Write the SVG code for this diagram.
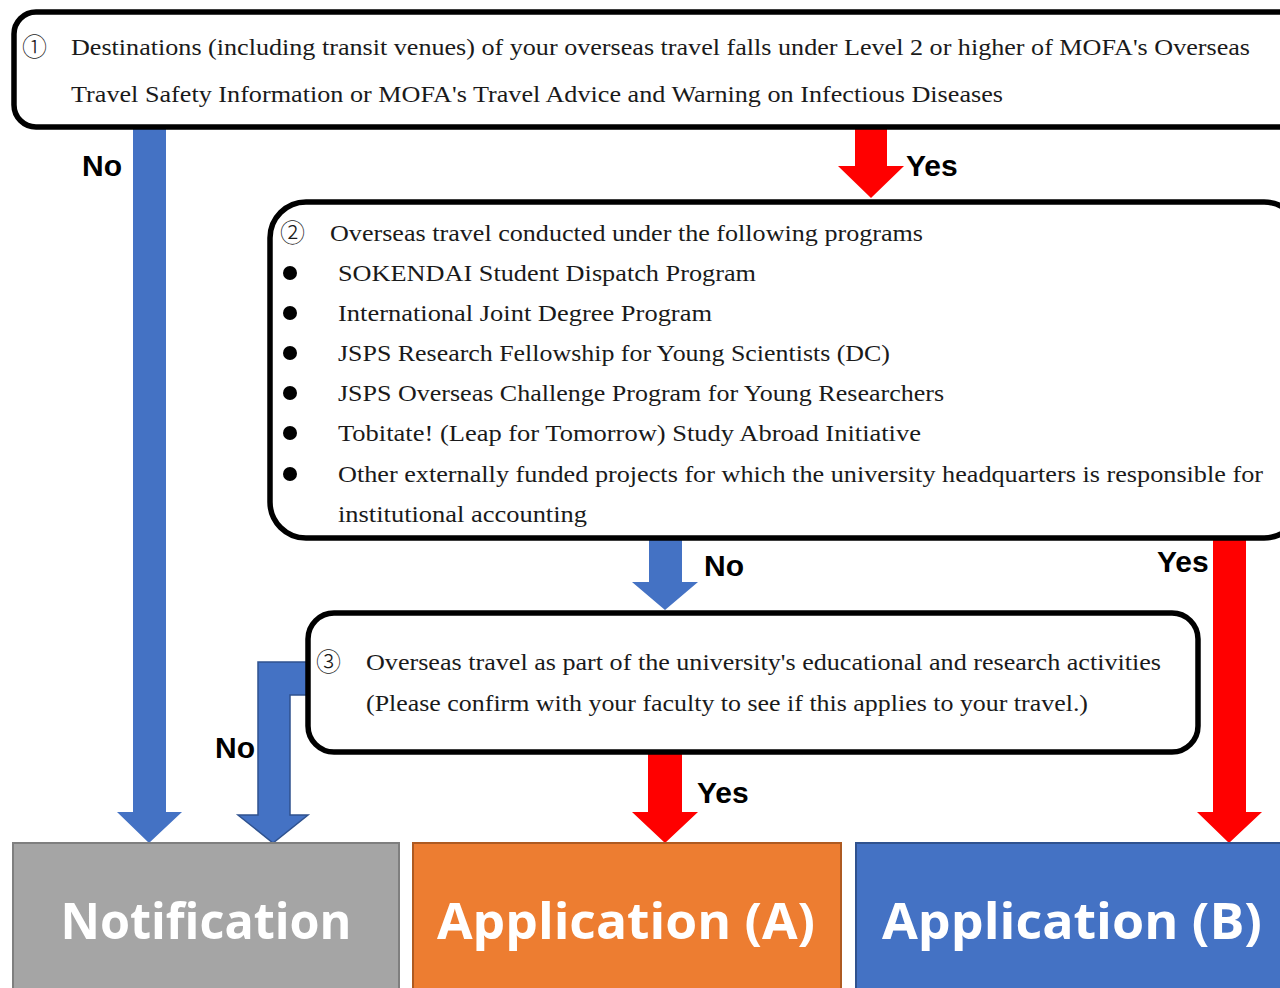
<svg xmlns="http://www.w3.org/2000/svg" width="1280" height="988" viewBox="0 0 1280 988">
<style>
.box{fill:#fff;stroke:#000;stroke-width:5.5}
.t{font-family:"Liberation Serif","Noto Serif CJK JP","Noto Sans CJK JP",serif;font-size:23px;fill:#1a1a1a}
.num{font-family:"Noto Sans CJK JP","DejaVu Sans",sans-serif;font-size:25px;fill:#1a1a1a;font-weight:300}
.lab{font-family:"Liberation Sans",Arial,sans-serif;font-weight:bold;font-size:30px;fill:#000}
.big{font-family:"Open Sans","Liberation Sans",sans-serif;font-weight:bold;font-size:50px;fill:#fff;text-anchor:middle}
.blue{fill:#4472C4}
.red{fill:#FF0000}
</style>
<rect width="1280" height="988" fill="#fff"/>
<g id="connectors">
  <polygon class="blue" points="133,128 166,128 166,812 182,812 149,843 117,812 133,812"/>
  <polygon class="red" points="855,128 887,128 887,166 904,166 871,198 838,166 855,166"/>
  <polygon class="blue" points="649,538 682,538 682,582 698,582 665,610 632,582 649,582"/>
  <polygon class="red" points="1213,538 1246,538 1246,812 1262,812 1229,843 1197,812 1213,812"/>
  <polygon class="blue" stroke="#2F528F" stroke-width="1.5" points="310,662 258,662 258,815 238,815 273,843 308,815 290,815 290,695 310,695"/>
  <polygon class="red" points="648,752 682,752 682,812 698,812 665,843 632,812 648,812"/>
  <text class="lab" x="82" y="176">No</text>
  <text class="lab" x="906" y="176">Yes</text>
  <text class="lab" x="704" y="576">No</text>
  <text class="lab" x="1157" y="572">Yes</text>
  <text class="lab" x="215" y="758">No</text>
  <text class="lab" x="697" y="803">Yes</text>
</g>
<g id="node1">
  <rect class="box" x="14" y="12" width="1290" height="115" rx="22"/>
  <text class="num" x="22" y="56">①</text>
  <text class="t" x="71" y="55" textLength="1179" lengthAdjust="spacingAndGlyphs">Destinations (including transit venues) of your overseas travel falls under Level 2 or higher of MOFA's Overseas</text>
  <text class="t" x="71" y="102" textLength="932" lengthAdjust="spacingAndGlyphs">Travel Safety Information or MOFA's Travel Advice and Warning on Infectious Diseases</text>
</g>
<g id="node2">
  <rect class="box" x="270" y="202" width="1030" height="336" rx="36"/>
  <text class="num" x="280" y="242">②</text>
  <text class="t" x="330" y="241" textLength="593" lengthAdjust="spacingAndGlyphs">Overseas travel conducted under the following programs</text>
  <g fill="#000">
    <circle cx="290" cy="273" r="7"/>
    <circle cx="290" cy="313" r="7"/>
    <circle cx="290" cy="353" r="7"/>
    <circle cx="290" cy="393" r="7"/>
    <circle cx="290" cy="433" r="7"/>
    <circle cx="290" cy="474" r="7"/>
  </g>
  <text class="t" x="338" y="281" textLength="418" lengthAdjust="spacingAndGlyphs">SOKENDAI Student Dispatch Program</text>
  <text class="t" x="338" y="321" textLength="374" lengthAdjust="spacingAndGlyphs">International Joint Degree Program</text>
  <text class="t" x="338" y="361" textLength="552" lengthAdjust="spacingAndGlyphs">JSPS Research Fellowship for Young Scientists (DC)</text>
  <text class="t" x="338" y="401" textLength="606" lengthAdjust="spacingAndGlyphs">JSPS Overseas Challenge Program for Young Researchers</text>
  <text class="t" x="338" y="441" textLength="583" lengthAdjust="spacingAndGlyphs">Tobitate! (Leap for Tomorrow) Study Abroad Initiative</text>
  <text class="t" x="338" y="482" textLength="925" lengthAdjust="spacingAndGlyphs">Other externally funded projects for which the university headquarters is responsible for</text>
  <text class="t" x="338" y="522" textLength="249" lengthAdjust="spacingAndGlyphs">institutional accounting</text>
</g>
<g id="node3">
  <rect class="box" x="308" y="613" width="890" height="139" rx="26"/>
  <text class="num" x="316" y="671">③</text>
  <text class="t" x="366" y="670" textLength="795" lengthAdjust="spacingAndGlyphs">Overseas travel as part of the university's educational and research activities</text>
  <text class="t" x="366" y="711" textLength="722" lengthAdjust="spacingAndGlyphs">(Please confirm with your faculty to see if this applies to your travel.)</text>
</g>
<g id="notification">
  <rect x="13" y="843" width="386" height="160" fill="#A5A5A5" stroke="#7F7F7F" stroke-width="2"/>
  <text class="big" x="206" y="939" textLength="291" lengthAdjust="spacingAndGlyphs">Notification</text>
</g>
<g id="applicationA">
  <rect x="413" y="843" width="428" height="160" fill="#ED7D31" stroke="#AE5A21" stroke-width="2"/>
  <text class="big" x="626" y="939" textLength="378" lengthAdjust="spacingAndGlyphs">Application (A)</text>
</g>
<g id="applicationB">
  <rect x="856" y="843" width="440" height="160" fill="#4472C4" stroke="#2F528F" stroke-width="2"/>
  <text class="big" x="1072" y="939" textLength="380" lengthAdjust="spacingAndGlyphs">Application (B)</text>
</g>
</svg>
